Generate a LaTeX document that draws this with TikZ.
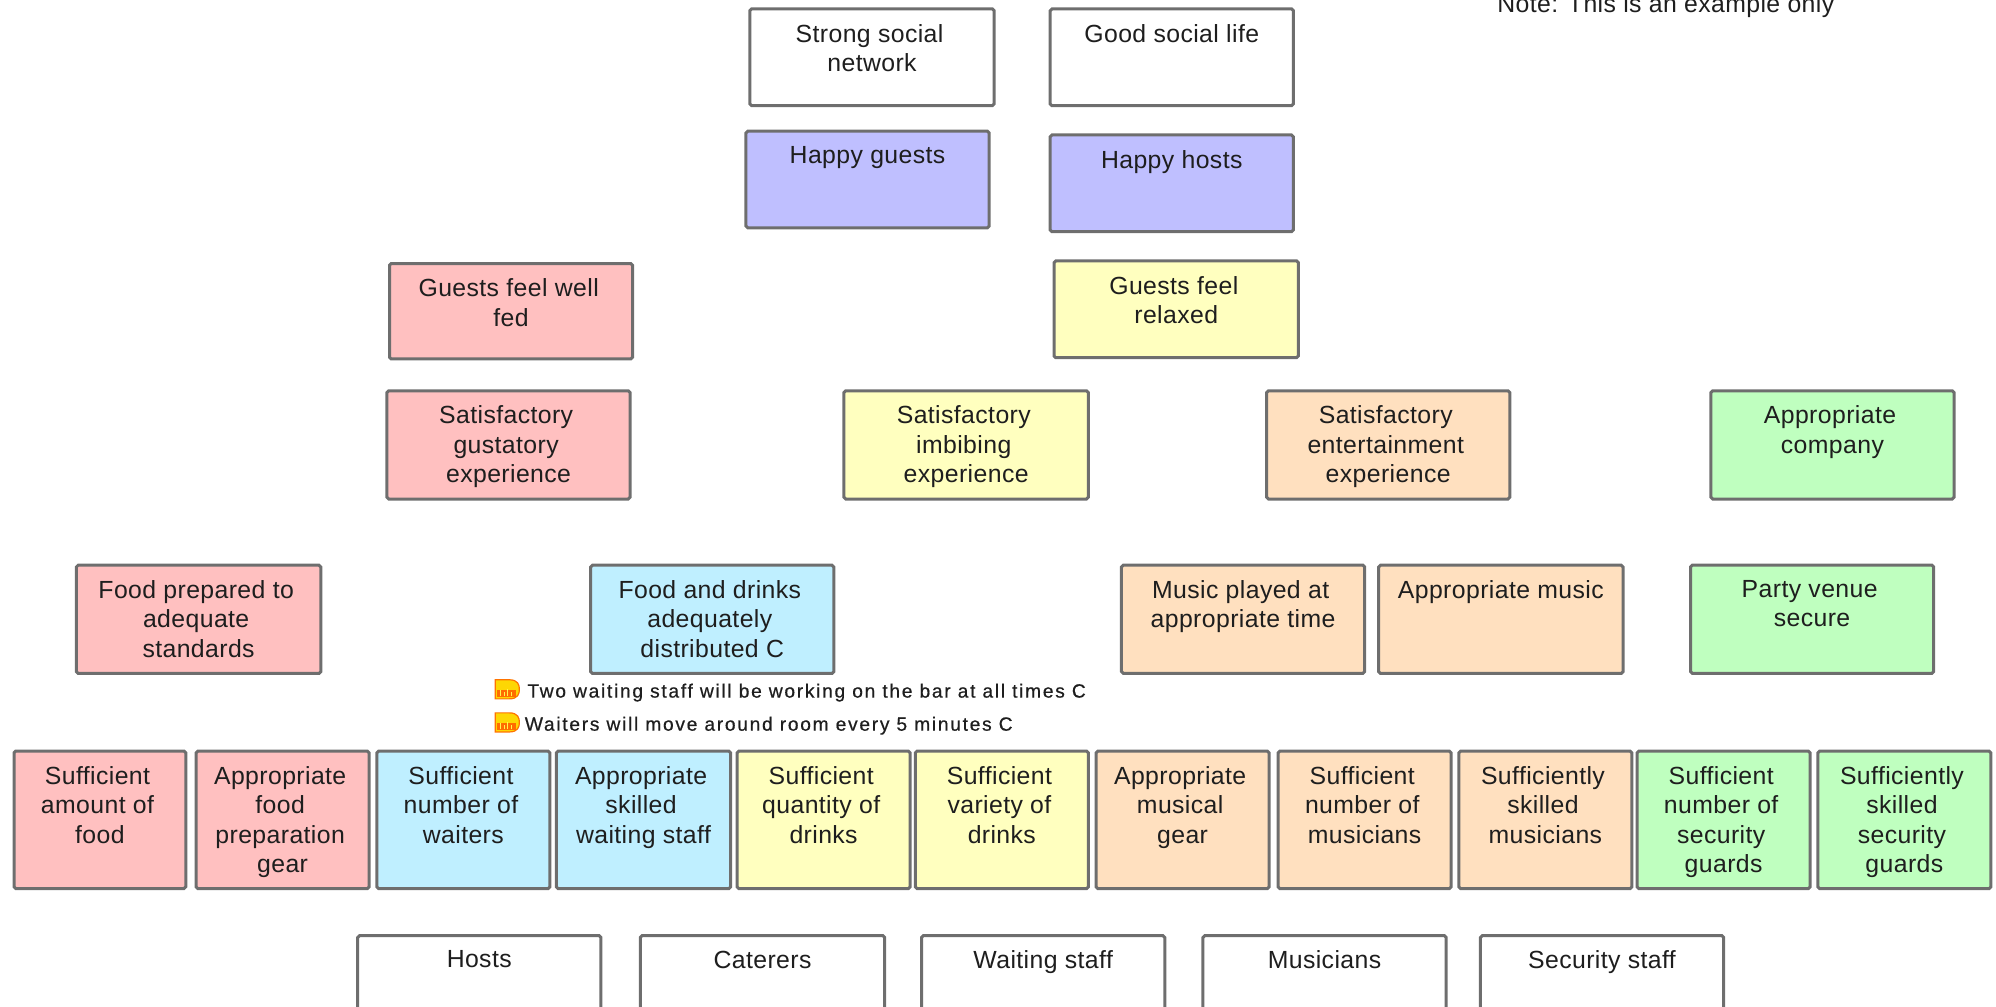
\documentclass[tikz,border=0pt]{standalone}
\usepackage{fontspec}
\setmainfont{Liberation Sans}
\definecolor{cpink}{HTML}{FFC0C0}
\definecolor{cblue}{HTML}{BFEFFF}
\definecolor{cyel}{HTML}{FFFFBF}
\definecolor{corg}{HTML}{FFE0BF}
\definecolor{cgrn}{HTML}{BFFFBF}
\definecolor{cpur}{HTML}{BFBFFF}
\definecolor{cedge}{HTML}{6E6E6E}
\definecolor{ctxt}{HTML}{1E1E1E}
\newlength{\bxw}\newlength{\bxh}
\tikzset{
  x=0.6365pt,y=-0.6365pt,
  card/.style={draw=cedge,line width=1.5pt,rounded corners=0.9pt,inner sep=0pt,outer sep=0pt,text=ctxt},
  smalltext/.style={inner sep=0pt,anchor=base west,text=ctxt,font=\fontsize{9.6}{11}\selectfont\addfontfeature{LetterSpace=8.9,FakeBold=0.6}},
  notetext/.style={inner sep=0pt,anchor=base west,text=ctxt,font=\fontsize{12.4}{14}\selectfont\addfontfeature{LetterSpace=1.6}}
}
% name, x1, y1, x2, y2, fill, text
\newcommand{\cardbox}[7]{%
  \pgfmathsetlength{\bxw}{(#4-#2)*0.6365pt}%
  \pgfmathsetlength{\bxh}{(#5-#3)*0.6365pt}%
  \node[card,fill=#6,anchor=north west] (#1) at (#2,#3)
    {\parbox[c][\bxh][t]{\bxw}{\centering\let\oldcr\\\def\\{\kern2.4pt\oldcr}\fontsize{12.4}{14.75}\selectfont\addfontfeature{LetterSpace=1.6}\vspace{7.6pt}#7\par}};%
}
\newcommand{\noteicon}[1]{%
  \begin{scope}[shift={(389,#1)}]
    \fill[draw=orange!90!red,line width=0.6pt,fill=yellow!75!orange] (0,0) -- (11,0) .. controls (18,0) and (19,4) .. (19,7.5) .. controls (19,11) and (18,15) .. (11,15) -- (0,15) -- cycle;
    \fill[orange!85!red] (1.5,8) rectangle (16,13.5);
    \draw[yellow!70,line width=0.5pt] (4,13) -- (4,8) (7,13) -- (7,9.5) (10,13) -- (10,7.5) (13,13) -- (13,9.5);
  \end{scope}}
\begin{document}
\begin{tikzpicture}
\path[use as bounding box] (0,0) rectangle (1568,790.3);
\clip (0,0) rectangle (1568,790.3);
\node[notetext] (note) at (1176,10) {Note: This is an example only};
\cardbox{social}{589}{7}{781}{83}{white}{Strong social\\network}
\cardbox{life}{825}{7}{1016}{83}{white}{Good social life}
\cardbox{guests}{586}{103}{777}{179}{cpur}{Happy guests}
\cardbox{hosts}{825}{106}{1016}{182}{cpur}{Happy hosts}
\cardbox{fed}{306}{207}{497}{282}{cpink}{Guests feel well\\fed}
\cardbox{relaxed}{828}{205}{1020}{281}{cyel}{Guests feel\\relaxed}
\cardbox{gust}{304}{307}{495}{392}{cpink}{Satisfactory\\gustatory\\experience}
\cardbox{imb}{663}{307}{855}{392}{cyel}{Satisfactory\\imbibing\\experience}
\cardbox{ent}{995}{307}{1186}{392}{corg}{Satisfactory\\entertainment\\experience}
\cardbox{comp}{1344}{307}{1535}{392}{cgrn}{Appropriate\\company}
\cardbox{prep}{60}{444}{252}{529}{cpink}{Food prepared to\\adequate\\standards}
\cardbox{dist}{464}{444}{655}{529}{cblue}{Food and drinks\\adequately\\distributed C}
\cardbox{time}{881}{444}{1072}{529}{corg}{Music played at\\appropriate time}
\cardbox{music}{1083}{444}{1275}{529}{corg}{Appropriate music}
\cardbox{venue}{1328}{444}{1519}{529}{cgrn}{Party venue\\secure}
\noteicon{534}
\node[smalltext] (bar) at (414,548) {Two waiting staff will be working on the bar at all times C};
\noteicon{560}
\node[smalltext] (room) at (412,574) {Waiters will move around room every 5 minutes C};
\cardbox{a1}{11}{590}{146}{698}{cpink}{Sufficient\\amount of\\food}
\cardbox{a2}{154}{590}{290}{698}{cpink}{Appropriate\\food\\preparation\\gear}
\cardbox{a3}{296}{590}{432}{698}{cblue}{Sufficient\\number of\\waiters}
\cardbox{a4}{437}{590}{574}{698}{cblue}{Appropriate\\skilled\\waiting staff}
\cardbox{a5}{579}{590}{715}{698}{cyel}{Sufficient\\quantity of\\drinks}
\cardbox{a6}{719}{590}{855}{698}{cyel}{Sufficient\\variety of\\drinks}
\cardbox{a7}{861}{590}{997}{698}{corg}{Appropriate\\musical\\gear}
\cardbox{a8}{1004}{590}{1140}{698}{corg}{Sufficient\\number of\\musicians}
\cardbox{a9}{1146}{590}{1282}{698}{corg}{Sufficiently\\skilled\\musicians}
\cardbox{a10}{1286}{590}{1422}{698}{cgrn}{Sufficient\\number of\\security\\guards}
\cardbox{a11}{1428}{590}{1564}{698}{cgrn}{Sufficiently\\skilled\\security\\guards}
\cardbox{r1}{281}{735}{472}{811}{white}{Hosts}
\cardbox{r2}{503}{735}{695}{811}{white}{Caterers}
\cardbox{r3}{724}{735}{915}{811}{white}{Waiting staff}
\cardbox{r4}{945}{735}{1136}{811}{white}{Musicians}
\cardbox{r5}{1163}{735}{1354}{811}{white}{Security staff}
\end{tikzpicture}
\end{document}
